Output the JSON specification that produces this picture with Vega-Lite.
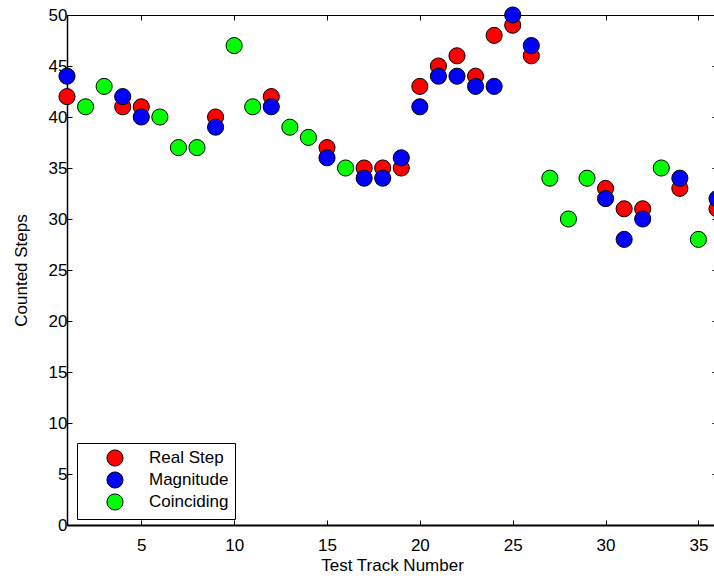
{
  "$schema": "https://vega.github.io/schema/vega-lite/v6.json",
  "autosize": {"type": "none"},
  "width": 650,
  "height": 510,
  "padding": {"left": 67, "top": 15, "right": 0, "bottom": 57},
  "background": "white",
  "config": {
    "view": {"stroke": "black", "strokeWidth": 1},
    "font": "Liberation Sans",
    "axis": {
      "labelFont": "Liberation Sans",
      "titleFont": "Liberation Sans",
      "labelFontSize": 17,
      "titleFontSize": 17,
      "titleFontWeight": "normal",
      "labelColor": "black",
      "titleColor": "black",
      "domainColor": "black",
      "tickColor": "black",
      "grid": false,
      "tickSize": -5
    }
  },
  "data": {
    "values": [
      {"track": 1, "value": 42, "series": "Real Step"},
      {"track": 4, "value": 41, "series": "Real Step"},
      {"track": 5, "value": 41, "series": "Real Step"},
      {"track": 9, "value": 40, "series": "Real Step"},
      {"track": 12, "value": 42, "series": "Real Step"},
      {"track": 15, "value": 37, "series": "Real Step"},
      {"track": 17, "value": 35, "series": "Real Step"},
      {"track": 18, "value": 35, "series": "Real Step"},
      {"track": 19, "value": 35, "series": "Real Step"},
      {"track": 20, "value": 43, "series": "Real Step"},
      {"track": 21, "value": 45, "series": "Real Step"},
      {"track": 22, "value": 46, "series": "Real Step"},
      {"track": 23, "value": 44, "series": "Real Step"},
      {"track": 24, "value": 48, "series": "Real Step"},
      {"track": 25, "value": 49, "series": "Real Step"},
      {"track": 26, "value": 46, "series": "Real Step"},
      {"track": 30, "value": 33, "series": "Real Step"},
      {"track": 31, "value": 31, "series": "Real Step"},
      {"track": 32, "value": 31, "series": "Real Step"},
      {"track": 34, "value": 33, "series": "Real Step"},
      {"track": 36, "value": 31, "series": "Real Step"},
      {"track": 1, "value": 44, "series": "Magnitude"},
      {"track": 4, "value": 42, "series": "Magnitude"},
      {"track": 5, "value": 40, "series": "Magnitude"},
      {"track": 9, "value": 39, "series": "Magnitude"},
      {"track": 12, "value": 41, "series": "Magnitude"},
      {"track": 15, "value": 36, "series": "Magnitude"},
      {"track": 17, "value": 34, "series": "Magnitude"},
      {"track": 18, "value": 34, "series": "Magnitude"},
      {"track": 19, "value": 36, "series": "Magnitude"},
      {"track": 20, "value": 41, "series": "Magnitude"},
      {"track": 21, "value": 44, "series": "Magnitude"},
      {"track": 22, "value": 44, "series": "Magnitude"},
      {"track": 23, "value": 43, "series": "Magnitude"},
      {"track": 24, "value": 43, "series": "Magnitude"},
      {"track": 25, "value": 50, "series": "Magnitude"},
      {"track": 26, "value": 47, "series": "Magnitude"},
      {"track": 30, "value": 32, "series": "Magnitude"},
      {"track": 31, "value": 28, "series": "Magnitude"},
      {"track": 32, "value": 30, "series": "Magnitude"},
      {"track": 34, "value": 34, "series": "Magnitude"},
      {"track": 36, "value": 32, "series": "Magnitude"},
      {"track": 2, "value": 41, "series": "Coinciding"},
      {"track": 3, "value": 43, "series": "Coinciding"},
      {"track": 6, "value": 40, "series": "Coinciding"},
      {"track": 7, "value": 37, "series": "Coinciding"},
      {"track": 8, "value": 37, "series": "Coinciding"},
      {"track": 10, "value": 47, "series": "Coinciding"},
      {"track": 11, "value": 41, "series": "Coinciding"},
      {"track": 13, "value": 39, "series": "Coinciding"},
      {"track": 14, "value": 38, "series": "Coinciding"},
      {"track": 16, "value": 35, "series": "Coinciding"},
      {"track": 27, "value": 34, "series": "Coinciding"},
      {"track": 28, "value": 30, "series": "Coinciding"},
      {"track": 29, "value": 34, "series": "Coinciding"},
      {"track": 33, "value": 35, "series": "Coinciding"},
      {"track": 35, "value": 28, "series": "Coinciding"}
    ]
  },
  "layer": [
    {
      "mark": {"type": "point", "filled": true, "opacity": 0, "size": 1},
      "encoding": {
        "x": {"field": "track", "type": "quantitative", "scale": {"domain": [1, 36], "nice": false, "zero": false},
              "axis": {"orient": "top", "labels": false, "title": null, "domain": false, "values": [5, 10, 15, 20, 25, 30, 35]}},
        "y": {"field": "value", "type": "quantitative", "scale": {"domain": [0, 50], "nice": false},
              "axis": {"orient": "right", "labels": false, "title": null, "domain": false, "values": [0, 5, 10, 15, 20, 25, 30, 35, 40, 45, 50]}}
      }
    },
    {
      "mark": {"type": "point", "filled": true, "opacity": 1, "size": 260, "stroke": "black", "strokeWidth": 1},
      "encoding": {
        "x": {"field": "track", "type": "quantitative", "scale": {"domain": [1, 36], "nice": false, "zero": false},
              "axis": {"orient": "bottom", "title": "Test Track Number", "values": [5, 10, 15, 20, 25, 30, 35], "domainWidth": 2, "labelPadding": 17, "titlePadding": 4}},
        "y": {"field": "value", "type": "quantitative", "scale": {"domain": [0, 50], "nice": false},
              "axis": {"orient": "left", "title": "Counted Steps", "values": [0, 5, 10, 15, 20, 25, 30, 35, 40, 45, 50], "domainWidth": 1.5, "labelPadding": 5, "titlePadding": 18}},
        "color": {
          "field": "series", "type": "nominal",
          "scale": {"domain": ["Real Step", "Magnitude", "Coinciding"], "range": ["#ff0000", "#0000ff", "#00ff00"]},
          "legend": {
            "title": null, "orient": "none", "legendX": 10, "legendY": 428,
            "strokeColor": "black", "fillColor": "white", "padding": 6,
            "symbolType": "circle", "symbolSize": 260, "symbolStrokeColor": "black", "symbolStrokeWidth": 1,
            "symbolOpacity": 1, "symbolOffset": 23, "labelOffset": 25,
            "labelFontSize": 17, "labelFont": "Liberation Sans", "labelColor": "black", "rowPadding": 0
          }
        }
      }
    }
  ],
  "resolve": {"axis": {"x": "independent", "y": "independent"}}
}
